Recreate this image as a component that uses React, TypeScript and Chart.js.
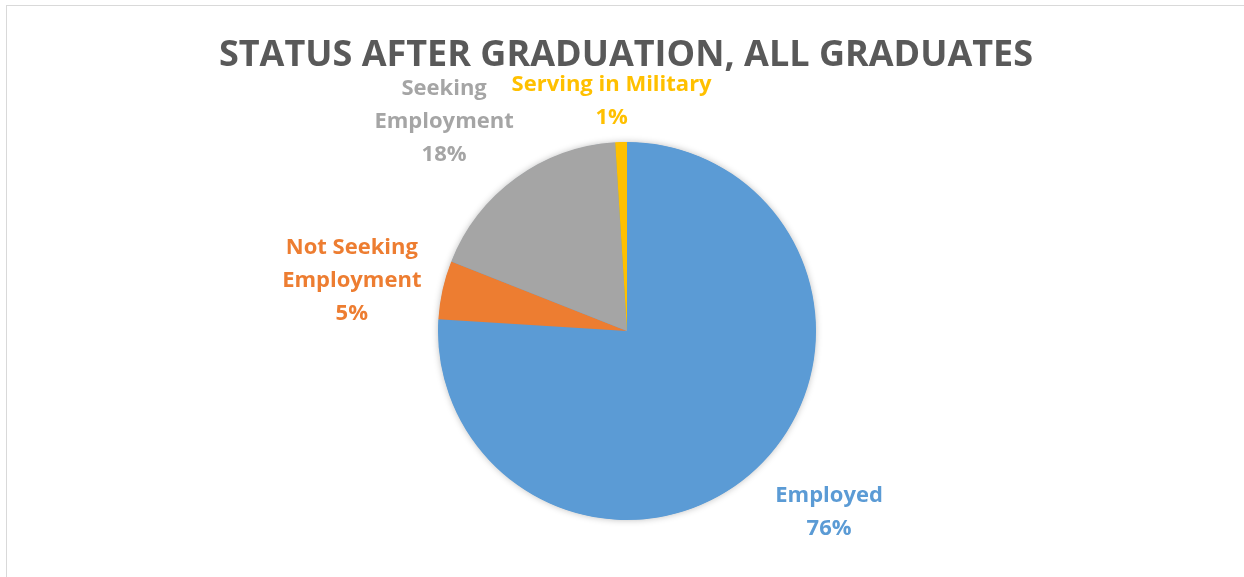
import React, { useEffect, useRef } from "react";
import { Chart, registerables } from "chart.js";

Chart.register(...registerables);

const TITLE = "STATUS AFTER GRADUATION, ALL GRADUATES";
const categories = ["Employed", "Not Seeking Employment", "Seeking Employment", "Serving in Military"];
const labelLines = [["Employed"], ["Not Seeking", "Employment"], ["Seeking", "Employment"], ["Serving in Military"]];
const values = [76, 5, 18, 1];
const colors = ["#5B9BD5", "#ED7D31", "#A5A5A5", "#FFC000"];

// layout style (label nudges in px relative to the automatic outside placement)
const LABEL_NUDGE: [number, number][] = [
  [29, 12],
  [-13, 4],
  [-25, -8],
  [-6, 2],
];

const FONT = "'Open Sans', 'Noto Sans', sans-serif";
const LINE_H = 33;
const GAP = 10;

const piePlugin = {
  id: "pieDecor",
  beforeDatasetsDraw(chart: any) {
    const meta = chart.getDatasetMeta(0);
    const arc = meta.data[0];
    if (!arc) return;
    const { x, y, outerRadius } = arc.getProps(["x", "y", "outerRadius"], true);
    const ctx = chart.ctx;
    ctx.save();
    ctx.shadowColor = "rgba(0,0,0,0.28)";
    ctx.shadowBlur = 7;
    ctx.beginPath();
    ctx.arc(x, y, outerRadius - 0.5, 0, Math.PI * 2);
    ctx.fillStyle = colors[0];
    ctx.fill();
    ctx.restore();
  },
  afterDatasetsDraw(chart: any) {
    const ctx = chart.ctx;
    const meta = chart.getDatasetMeta(0);
    const total = values.reduce((a, b) => a + b, 0);
    ctx.save();
    ctx.font = `bold 22px ${FONT}`;
    ctx.textAlign = "center";
    ctx.textBaseline = "middle";
    meta.data.forEach((arc: any, i: number) => {
      const { x, y, startAngle, endAngle, outerRadius } = arc.getProps(
        ["x", "y", "startAngle", "endAngle", "outerRadius"],
        true
      );
      const mid = (startAngle + endAngle) / 2;
      const dx = Math.cos(mid);
      const dy = Math.sin(mid);
      const ax = x + dx * outerRadius;
      const ay = y + dy * outerRadius;
      const lines = [...labelLines[i], Math.round((values[i] / total) * 100) + "%"];
      const w = Math.max(...lines.map((l) => ctx.measureText(l).width));
      const h = lines.length * LINE_H;
      const cx = ax + dx * (w / 2 + GAP) + LABEL_NUDGE[i][0];
      const cy = ay + dy * (h / 2 + GAP) + LABEL_NUDGE[i][1];
      ctx.fillStyle = colors[i];
      lines.forEach((l, k) => ctx.fillText(l, cx, cy - h / 2 + LINE_H * (k + 0.5)));
    });
    // title
    ctx.font = `bold 36px ${FONT}`;
    ctx.fillStyle = "#595959";
    ctx.textAlign = "center";
    ctx.textBaseline = "alphabetic";
    ctx.fillText(TITLE, 626, 66);
    ctx.restore();
  },
};

export default function App() {
  const canvasRef = useRef<HTMLCanvasElement | null>(null);

  useEffect(() => {
    if (!canvasRef.current) return;
    const chart = new Chart(canvasRef.current, {
      type: "pie",
      data: {
        labels: categories,
        datasets: [
          {
            data: values,
            backgroundColor: colors,
            borderWidth: 0,
          },
        ],
      },
      options: {
        animation: false,
        responsive: true,
        maintainAspectRatio: false,
        layout: { padding: { top: 142, bottom: 57, left: 200, right: 190 } },
        plugins: {
          legend: { display: false },
          title: { display: false },
          tooltip: { enabled: false },
        },
      },
      plugins: [piePlugin],
    });
    return () => chart.destroy();
  }, []);

  return (
    <div
      style={{
        position: "fixed",
        left: 0,
        top: 0,
        width: 1244,
        height: 577,
        overflow: "hidden",
        background: "#fff",
      }}
    >
      <div
        style={{
          position: "absolute",
          left: 6,
          top: 5,
          width: 1300,
          height: 700,
          border: "1px solid #D9D9D9",
          boxSizing: "border-box",
        }}
      />
      <div style={{ position: "absolute", left: 0, top: 0, width: 1244, height: 577 }}>
        <canvas ref={canvasRef} />
      </div>
    </div>
  );
}
